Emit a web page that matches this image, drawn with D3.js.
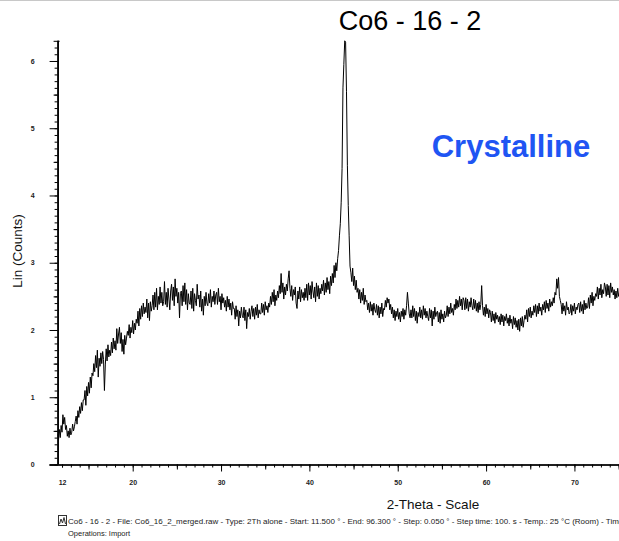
<!DOCTYPE html>
<html>
<head>
<meta charset="utf-8">
<script src="https://cdn.jsdelivr.net/npm/d3@7"></script>
<style>
  body { margin: 0; background: #fff; }
  svg { display: block; font-family: "Liberation Sans", Arial, sans-serif; }
</style>
</head>
<body>
<div id="chart"></div>
<script>
// 2-theta scan, every 0.1 deg starting at 11.5 deg
// (one row = one degree, n.5 .. n+1.4)
const scanStart = 11.5;
const scanStep = 0.1;
const counts = [
  0.45, 0.36, 0.52, 0.40, 0.58, 0.48, 0.74, 0.60, 0.70, 0.52,
  0.58, 0.42, 0.50, 0.40, 0.54, 0.44, 0.48, 0.60, 0.50, 0.56,
  0.64, 0.72, 0.60, 0.80, 0.70, 0.86, 0.76, 0.92, 0.80, 0.96,
  0.96, 1.10, 0.88, 1.16, 1.02, 1.22, 1.06, 1.30, 1.14, 1.36,
  1.32, 1.50, 1.38, 1.62, 1.44, 1.70, 1.30, 1.58, 1.46, 1.66,
  1.50, 1.68, 1.56, 1.10, 1.48, 1.72, 1.54, 1.78, 1.60, 1.70,
  1.62, 1.82, 1.66, 1.88, 1.72, 1.84, 1.70, 2.02, 1.80, 1.94,
  2.04, 1.80, 1.96, 1.68, 1.86, 1.64, 1.92, 1.78, 1.88, 1.98,
  1.92, 2.08, 1.88, 2.04, 1.96, 2.14, 1.94, 2.10, 2.00, 2.16,
  2.10, 2.28, 2.06, 2.32, 2.16, 2.36, 2.20, 2.40, 2.24, 2.34,
  2.26, 2.46, 2.18, 2.40, 2.14, 2.42, 2.28, 2.36, 2.52, 2.30,
  2.56, 2.34, 2.62, 2.30, 2.50, 2.38, 2.64, 2.40, 2.56, 2.36,
  2.42, 2.72, 2.38, 2.56, 2.34, 2.62, 2.46, 2.30, 2.58, 2.68,
  2.44, 2.64, 2.36, 2.76, 2.50, 2.62, 2.40, 2.56, 2.18, 2.54,
  2.58, 2.36, 2.66, 2.42, 2.70, 2.38, 2.60, 2.30, 2.54, 2.40,
  2.38, 2.58, 2.32, 2.62, 2.28, 2.54, 2.44, 2.36, 2.68, 2.46,
  2.52, 2.34, 2.58, 2.28, 2.46, 2.22, 2.50, 2.36, 2.56, 2.40,
  2.36, 2.54, 2.40, 2.60, 2.34, 2.50, 2.42, 2.58, 2.38, 2.52,
  2.56, 2.38, 2.62, 2.42, 2.50, 2.30, 2.54, 2.40, 2.48, 2.34,
  2.44, 2.28, 2.50, 2.34, 2.46, 2.30, 2.40, 2.22, 2.42, 2.32,
  2.32, 2.16, 2.36, 2.20, 2.30, 2.06, 2.28, 2.18, 2.34, 2.22,
  2.18, 2.34, 2.14, 2.30, 2.02, 2.26, 2.20, 2.32, 2.16, 2.28,
  2.36, 2.20, 2.32, 2.16, 2.34, 2.22, 2.38, 2.18, 2.30, 2.24,
  2.24, 2.40, 2.26, 2.38, 2.22, 2.42, 2.30, 2.36, 2.26, 2.40,
  2.34, 2.50, 2.38, 2.56, 2.42, 2.60, 2.36, 2.52, 2.44, 2.58,
  2.48, 2.66, 2.54, 2.84, 2.56, 2.70, 2.46, 2.64, 2.52, 2.68,
  2.58, 2.76, 2.88, 2.62, 2.50, 2.66, 2.44, 2.60, 2.52, 2.64,
  2.40, 2.32, 2.58, 2.46, 2.64, 2.42, 2.60, 2.48, 2.56, 2.44,
  2.62, 2.48, 2.68, 2.44, 2.70, 2.52, 2.66, 2.46, 2.72, 2.58,
  2.48, 2.64, 2.42, 2.70, 2.50, 2.66, 2.46, 2.62, 2.54, 2.68,
  2.58, 2.74, 2.52, 2.70, 2.56, 2.78, 2.60, 2.72, 2.54, 2.80,
  2.66, 2.84, 2.70, 2.96, 2.78, 3.00, 2.88, 3.06, 3.18, 3.40,
  3.58, 3.90, 4.40, 5.60, 5.95, 6.30, 6.28, 5.55, 4.45, 3.85,
  3.40, 2.95, 2.85, 2.72, 2.92, 2.66, 2.80, 2.60, 2.74, 2.56,
  2.62, 2.46, 2.60, 2.40, 2.56, 2.44, 2.62, 2.38, 2.52, 2.42,
  2.44, 2.30, 2.40, 2.26, 2.42, 2.28, 2.38, 2.22, 2.40, 2.30,
  2.26, 2.38, 2.22, 2.36, 2.18, 2.34, 2.24, 2.40, 2.20, 2.32,
  2.30, 2.44, 2.34, 2.48, 2.40, 2.46, 2.30, 2.38, 2.24, 2.34,
  2.18, 2.30, 2.14, 2.28, 2.20, 2.32, 2.16, 2.26, 2.12, 2.28,
  2.20, 2.32, 2.16, 2.30, 2.22, 2.36, 2.56, 2.40, 2.24, 2.18,
  2.30, 2.18, 2.36, 2.20, 2.32, 2.14, 2.28, 2.10, 2.26, 2.20,
  2.34, 2.18, 2.30, 2.16, 2.36, 2.22, 2.32, 2.18, 2.28, 2.20,
  2.14, 2.32, 2.18, 2.30, 2.06, 2.28, 2.16, 2.34, 2.20, 2.26,
  2.28, 2.12, 2.26, 2.10, 2.30, 2.16, 2.24, 2.12, 2.28, 2.18,
  2.22, 2.36, 2.20, 2.34, 2.24, 2.40, 2.26, 2.32, 2.22, 2.38,
  2.30, 2.46, 2.32, 2.44, 2.34, 2.50, 2.36, 2.46, 2.30, 2.48,
  2.44, 2.30, 2.48, 2.32, 2.46, 2.28, 2.42, 2.34, 2.48, 2.36,
  2.30, 2.46, 2.32, 2.44, 2.28, 2.40, 2.26, 2.42, 2.30, 2.38,
  2.66, 2.36, 2.22, 2.34, 2.20, 2.38, 2.24, 2.32, 2.18, 2.30,
  2.26, 2.12, 2.28, 2.14, 2.24, 2.10, 2.26, 2.16, 2.22, 2.12,
  2.20, 2.08, 2.24, 2.12, 2.22, 2.06, 2.20, 2.14, 2.24, 2.10,
  2.18, 2.06, 2.22, 2.10, 2.16, 2.02, 2.20, 2.08, 2.18, 2.04,
  2.14, 2.00, 2.16, 1.98, 2.18, 2.06, 2.20, 2.04, 2.14, 2.22,
  2.16, 2.30, 2.12, 2.32, 2.20, 2.34, 2.18, 2.28, 2.22, 2.36,
  2.26, 2.38, 2.20, 2.36, 2.24, 2.40, 2.28, 2.34, 2.22, 2.38,
  2.30, 2.42, 2.26, 2.44, 2.32, 2.40, 2.28, 2.46, 2.34, 2.42,
  2.36, 2.48, 2.40, 2.56, 2.52, 2.76, 2.62, 2.78, 2.50, 2.44,
  2.38, 2.24, 2.40, 2.28, 2.36, 2.22, 2.42, 2.30, 2.34, 2.24,
  2.26, 2.38, 2.22, 2.36, 2.28, 2.40, 2.24, 2.34, 2.30, 2.38,
  2.40, 2.26, 2.42, 2.28, 2.38, 2.24, 2.44, 2.30, 2.40, 2.32,
  2.34, 2.48, 2.32, 2.52, 2.40, 2.56, 2.36, 2.50, 2.44, 2.54,
  2.50, 2.64, 2.46, 2.62, 2.52, 2.68, 2.48, 2.60, 2.54, 2.70,
  2.64, 2.50, 2.68, 2.52, 2.66, 2.48, 2.70, 2.56, 2.64, 2.52,
  2.60, 2.46, 2.58, 2.48, 2.62, 2.50, 2.56, 2.44, 2.60, 2.52
];

const xLabels = [12, 20, 30, 40, 50, 60, 70];
const yLabels = [0, 1, 2, 3, 4, 5, 6];
const title = "Co6 - 16 - 2";
const note = "Crystalline";
const xTitle = "2-Theta - Scale";
const yTitle = "Lin (Counts)";
const infoLine = "Co6 - 16 - 2 - File: Co6_16_2_merged.raw - Type: 2Th alone - Start: 11.500 \u00b0 - End: 96.300 \u00b0 - Step: 0.050 \u00b0 - Step time: 100. s - Temp.: 25 \u00b0C (Room) - Time Started: 0 s";
const opsLine = "Operations: Import";

const width = 619, height = 541;
const plot = {left: 57.6, right: 618.6, top: 40.8, bottom: 464.5};

const data = counts.map((c, i) => ({tt: scanStart + i * scanStep, c}));

const svg = d3.select("#chart").append("svg")
    .attr("width", width)
    .attr("height", height);

const x = d3.scaleLinear().domain([11.5, 75]).range([plot.left, plot.right]);
const y = d3.scaleLinear().domain([0, 6.3]).range([plot.bottom, plot.top]);

// faint frame line at the top
svg.append("line")
    .attr("x1", 0).attr("x2", width).attr("y1", 0.5).attr("y2", 0.5)
    .attr("stroke", "#c8c8c8");

svg.append("clipPath").attr("id", "clip")
    .append("rect")
    .attr("x", plot.left).attr("y", 30)
    .attr("width", width - plot.left).attr("height", plot.bottom - 30);

// x axis: 1 deg minor, 5 deg medium, 10 deg major
const xg = svg.append("g").attr("transform", `translate(0,${plot.bottom})`);
xg.append("g").call(d3.axisBottom(x).tickValues(d3.range(12, 76, 1)).tickSize(3).tickSizeOuter(0).tickFormat(""));
xg.append("g").call(d3.axisBottom(x).tickValues(d3.range(15, 76, 10)).tickSize(5).tickSizeOuter(0).tickFormat(""));
const xMajor = xg.append("g").call(d3.axisBottom(x).tickValues(xLabels).tickSize(7).tickSizeOuter(0).tickPadding(9));
xMajor.selectAll(".tick").filter(d => d === 12).select("line").attr("y2", 3);
xg.selectAll(".domain").attr("d", `M${plot.left - 8},0.5H${width}`);

// y axis: 0.1 minor, 0.5 medium, 1 major
const yg = svg.append("g").attr("transform", `translate(${plot.left},0)`);
yg.append("g").call(d3.axisLeft(y).tickValues(d3.range(0, 63).map(i => i / 10)).tickSize(3).tickSizeOuter(0).tickFormat(""));
yg.append("g").call(d3.axisLeft(y).tickValues([0.5, 1.5, 2.5, 3.5, 4.5, 5.5]).tickSize(4).tickSizeOuter(0).tickFormat(""));
yg.append("g").call(d3.axisLeft(y).tickValues(yLabels).tickSize(8).tickSizeOuter(0).tickPadding(15).tickFormat(d3.format("d")));
// little cross at the top end of the axis
yg.append("g").call(d3.axisLeft(y).tickValues([6.3]).tickSize(4).tickSizeOuter(0).tickFormat(""))
    .selectAll(".tick line").attr("x1", 2);
yg.selectAll(".domain").attr("d", `M0.5,${plot.bottom}V${plot.top}`);

svg.selectAll(".domain, .tick line").attr("stroke", "#000").attr("stroke-width", 1);
svg.selectAll(".tick text")
    .attr("font-size", 7)
    .attr("font-weight", "bold")
    .attr("fill", "#222")
    .attr("font-family", "\"Liberation Sans\", Arial, sans-serif");

// the scan
svg.append("path")
    .datum(data)
    .attr("clip-path", "url(#clip)")
    .attr("fill", "none")
    .attr("stroke", "#000")
    .attr("stroke-width", 1)
    .attr("d", d3.line().x(d => x(d.tt)).y(d => y(d.c)));

// texts
svg.append("text")
    .attr("x", 410).attr("y", 30)
    .attr("text-anchor", "middle")
    .attr("font-size", 27)
    .attr("fill", "#000")
    .text(title);

svg.append("text")
    .attr("x", 511).attr("y", 157)
    .attr("text-anchor", "middle")
    .attr("font-size", 31)
    .attr("font-weight", "bold")
    .attr("fill", "#1f55f3")
    .text(note);

svg.append("text")
    .attr("x", 433).attr("y", 509)
    .attr("text-anchor", "middle")
    .attr("font-size", 13.5)
    .attr("fill", "#111")
    .text(xTitle);

svg.append("text")
    .attr("transform", "translate(22,251) rotate(-90)")
    .attr("text-anchor", "middle")
    .attr("font-size", 13.5)
    .attr("fill", "#111")
    .text(yTitle);

// legend line at the bottom
const legend = svg.append("g");
legend.append("rect")
    .attr("x", 58.5).attr("y", 515.5).attr("width", 8).attr("height", 10)
    .attr("fill", "none").attr("stroke", "#333");
legend.append("path")
    .attr("d", "M59.5,524 L61,519 L62.5,523 L64,517.5 L65.5,524")
    .attr("fill", "none").attr("stroke", "#333");
legend.append("text")
    .attr("x", 68).attr("y", 524)
    .attr("font-size", 8)
    .attr("fill", "#222")
    .text(infoLine);
legend.append("text")
    .attr("x", 68).attr("y", 536)
    .attr("font-size", 7.5)
    .attr("fill", "#222")
    .text(opsLine);
</script>
</body>
</html>
